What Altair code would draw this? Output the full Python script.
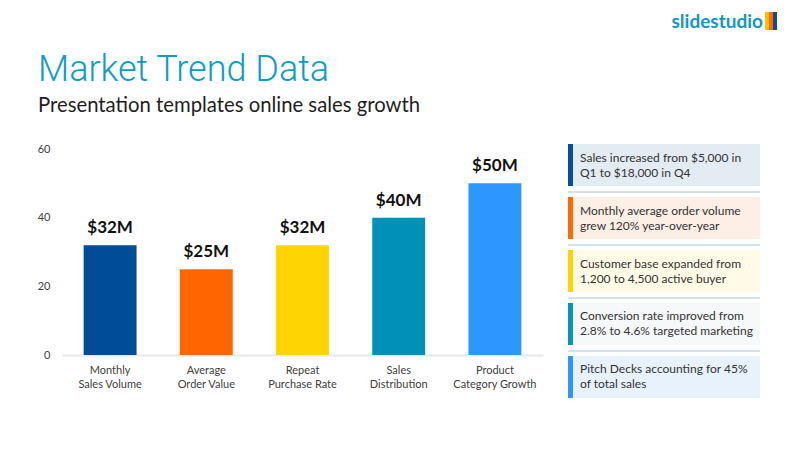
import altair as alt
import pandas as pd

# ---- data ----
categories = ["Monthly|Sales Volume", "Average|Order Value", "Repeat|Purchase Rate",
              "Sales|Distribution", "Product|Category Growth"]
values = [32, 25, 32, 40, 50]
value_labels = ["$32M", "$25M", "$32M", "$40M", "$50M"]
bar_colors = ["#004C99", "#FF6600", "#FFD400", "#0090B8", "#2E96FF"]
y_ticks = [0, 20, 40, 60]

notes = [
    "Sales increased from $5,000 in\nQ1 to $18,000 in Q4",
    "Monthly average order volume\ngrew 120% year-over-year",
    "Customer base expanded from\n1,200 to 4,500 active buyer",
    "Conversion rate improved from\n2.8% to 4.6% targeted marketing",
    "Pitch Decks accounting for 45%\nof total sales",
]
note_stripes = ["#0A4D9A", "#FF6A00", "#FFD300", "#0A93B8", "#2F96FF"]
note_bgs = ["#E3EBF3", "#FDEEE6", "#FFFBE6", "#F7F8FA", "#E8F2FD"]

title_text = "Market Trend Data"
subtitle_text = "Presentation templates online sales growth"
logo_text = "slidestudio"
logo_colors = ["#FFC000", "#FF6A00", "#0A4D9A"]

FONT = "Lato, Noto Sans, sans-serif"

bars_df = pd.DataFrame({"cat": categories, "value": values,
                        "label": value_labels, "color": bar_colors})
notes_df = pd.DataFrame({"idx": list(range(len(notes))), "note": notes,
                         "stripe": note_stripes, "bg": note_bgs})

x_enc = alt.X("cat:N", sort=categories,
              scale=alt.Scale(paddingInner=0.45, paddingOuter=0.225),
              axis=alt.Axis(title=None, labelAngle=0, ticks=False, domain=True,
                            domainColor="#E6E8EC", domainWidth=2,
                            labelExpr="split(datum.label, '|')",
                            labelFont=FONT, labelFontSize=11, labelColor="#404040",
                            labelPadding=9, labelLineHeight=14, labelBaseline="top"))
y_enc = alt.Y("value:Q", scale=alt.Scale(domain=[0, 60], nice=False),
              axis=alt.Axis(title=None, values=y_ticks, grid=False, ticks=False,
                            domain=False, labelFont=FONT, labelFontSize=11,
                            labelColor="#404040", labelPadding=12))

bars = alt.Chart(bars_df).mark_bar().encode(
    x=x_enc, y=y_enc,
    color=alt.Color("color:N", scale=None),
)
bar_text = alt.Chart(bars_df).mark_text(
    font=FONT, fontSize=17, fontWeight="bold", color="#111111",
    baseline="bottom", dy=-8
).encode(x=alt.X("cat:N", sort=categories), y="value:Q", text="label:N")

bar_layer = alt.layer(bars, bar_text)

# ---- notes panel ----
y_note = alt.Y("idx:O", axis=None,
               scale=alt.Scale(domain=list(range(len(notes))), range=[-5, 249],
                               paddingInner=0.2075, paddingOuter=0))
note_bg = alt.Chart(notes_df).mark_rect().encode(
    x=alt.value(506), x2=alt.value(698), y=y_note,
    color=alt.Color("bg:N", scale=None))
note_stripe = alt.Chart(notes_df).mark_rect().encode(
    x=alt.value(506), x2=alt.value(511), y=y_note,
    color=alt.Color("stripe:N", scale=None))
note_sep = alt.Chart(notes_df).transform_filter("datum.idx < 4").mark_rule(
    color="#C9D5E6", strokeWidth=1.5, yOffset=27
).encode(x=alt.value(506), x2=alt.value(698), y=y_note)
note_txt = alt.Chart(notes_df).mark_text(
    font=FONT, fontSize=12, color="#333333", align="left", baseline="middle",
    lineBreak="\n", lineHeight=15, dy=-7.5
).encode(x=alt.value(518), y=y_note, text="note:N")

note_layer = alt.layer(note_bg, note_stripe, note_sep, note_txt)

# ---- titles & logo ----
title = alt.Chart(pd.DataFrame({"t": [title_text]})).mark_text(
    font="Roboto, sans-serif", fontSize=36, fontWeight=300, color="#0E9BC4",
    align="left", baseline="alphabetic"
).encode(x=alt.value(-24), y=alt.value(-68), text="t:N")
subtitle = alt.Chart(pd.DataFrame({"t": [subtitle_text]})).mark_text(
    font=FONT, fontSize=20.3, color="#1E1E1E", align="left", baseline="alphabetic"
).encode(x=alt.value(-24), y=alt.value(-37), text="t:N")
logo = alt.Chart(pd.DataFrame({"t": [logo_text]})).mark_text(
    font=FONT, fontSize=19, fontWeight="bold", color="#1596C2",
    align="right", baseline="alphabetic"
).encode(x=alt.value(701), y=alt.value(-121), text="t:N")
logo_df = pd.DataFrame({"c": logo_colors, "i": [0, 1, 2]})
logo_icon = alt.Chart(logo_df).mark_rect().encode(
    x=alt.X("i:O", axis=None, scale=alt.Scale(range=[703, 715], paddingInner=0, paddingOuter=0)),
    y=alt.value(-137), y2=alt.value(-119),
    color=alt.Color("c:N", scale=None))

chart = alt.layer(
    bar_layer, note_layer, title, subtitle, logo, logo_icon
).resolve_scale(
    x="independent", y="independent"
).properties(
    width=481, height=206,
    padding={"left": 62, "top": 149, "right": 257, "bottom": 95},
    autosize=alt.AutoSizeParams(type="none"),
    background="white",
).configure_view(stroke=None)

chart.save("out.html", embed_options={"renderer": "svg", "actions": False})
